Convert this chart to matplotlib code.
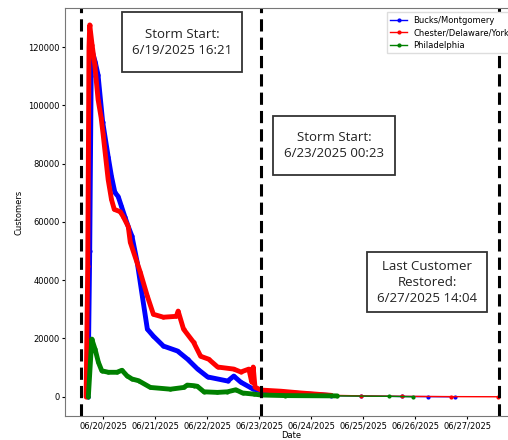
import numpy as np
import pandas as pd
import matplotlib
matplotlib.use("Agg")
import matplotlib.pyplot as plt
import matplotlib.dates as mdates
import matplotlib.patches as mpatches

# outage counts
bucks_t = ["2025-06-19 16:50", "2025-06-19 17:40", "2025-06-19 18:20", "2025-06-19 18:50",
           "2025-06-19 20:10", "2025-06-19 21:30", "2025-06-19 23:38", "2025-06-20 02:11",
           "2025-06-20 03:43", "2025-06-20 05:17", "2025-06-20 06:49", "2025-06-20 08:20",
           "2025-06-20 09:53", "2025-06-20 11:28", "2025-06-20 13:11", "2025-06-20 15:38",
           "2025-06-20 17:58", "2025-06-20 20:17", "2025-06-20 23:04", "2025-06-21 03:43",
           "2025-06-21 10:13", "2025-06-21 14:51", "2025-06-21 19:30", "2025-06-22 00:08",
           "2025-06-22 09:24", "2025-06-22 12:12", "2025-06-22 15:27", "2025-06-22 21:00",
           "2025-06-23 00:45", "2025-06-23 10:00", "2025-06-23 19:12", "2025-06-24 09:12",
           "2025-06-24 23:00", "2025-06-25 18:00", "2025-06-26 06:00", "2025-06-26 18:20"]
bucks_v = [0, 50000, 110000, 118500,
           115000, 110500, 94400, 82400,
           75600, 70100, 68700, 65300,
           61800, 58400, 55100, 46000,
           34500, 23200, 20800, 17400,
           15700, 12900, 9500, 6800,
           5400, 7100, 5000, 2700,
           2000, 1600, 1100, 400,
           250, 100, 50, 0]

chester_t = ["2025-06-19 16:00", "2025-06-19 16:45", "2025-06-19 17:20", "2025-06-19 17:40",
             "2025-06-19 18:45", "2025-06-19 20:00", "2025-06-19 21:32", "2025-06-19 22:56",
             "2025-06-19 23:52", "2025-06-20 02:11", "2025-06-20 03:43", "2025-06-20 05:00",
             "2025-06-20 07:45", "2025-06-20 09:09", "2025-06-20 11:28", "2025-06-20 12:24",
             "2025-06-20 17:02", "2025-06-20 20:17", "2025-06-20 23:04", "2025-06-21 03:43",
             "2025-06-21 09:40", "2025-06-21 10:30", "2025-06-21 13:00", "2025-06-21 17:38",
             "2025-06-21 20:53", "2025-06-22 00:36", "2025-06-22 04:46", "2025-06-22 12:12",
             "2025-06-22 15:27", "2025-06-22 19:10", "2025-06-22 20:30", "2025-06-22 21:10",
             "2025-06-22 22:00", "2025-06-23 00:45", "2025-06-23 10:00", "2025-06-23 19:12",
             "2025-06-24 09:12", "2025-06-24 23:10", "2025-06-25 17:40", "2025-06-26 16:20",
             "2025-06-27 14:04"]
chester_v = [0, 45000, 120000, 127600,
             120800, 113900, 102000, 95800,
             90000, 74500, 67700, 64300,
             63500, 61800, 58400, 53000,
             42700, 34500, 28300, 27300,
             27600, 29400, 23200, 18700,
             13900, 12900, 10200, 9500,
             8500, 9500, 5000, 10200,
             3300, 2300, 1900, 1300,
             500, 300, 150, 50,
             0]

phila_t = ["2025-06-19 17:02", "2025-06-19 18:37", "2025-06-19 20:09", "2025-06-19 21:41",
           "2025-06-19 23:15", "2025-06-20 02:19", "2025-06-20 06:13", "2025-06-20 08:33",
           "2025-06-20 10:52", "2025-06-20 13:11", "2025-06-20 16:15", "2025-06-20 21:41",
           "2025-06-21 06:58", "2025-06-21 13:08", "2025-06-21 14:42", "2025-06-21 17:47",
           "2025-06-21 19:21", "2025-06-21 22:25", "2025-06-22 04:38", "2025-06-22 09:16",
           "2025-06-22 13:08", "2025-06-22 16:14", "2025-06-22 21:37", "2025-06-23 00:45",
           "2025-06-23 12:00", "2025-06-24 12:00", "2025-06-25 12:00", "2025-06-25 23:10"]
phila_v = [0, 19800, 16300, 11800,
           8900, 8400, 8400, 9100,
           7200, 6100, 5500, 3200,
           2600, 3200, 4000, 3800,
           3600, 1700, 1500, 1700,
           2400, 1300, 900, 600,
           400, 300, 150, 0]

labels = ["Bucks/Montgomery", "Chester/Delaware/York", "Philadelphia"]
colors = ["blue", "red", "green"]
series = [(bucks_t, bucks_v), (chester_t, chester_v), (phila_t, phila_v)]

storm_lines = ["2025-06-19 13:30", "2025-06-23 00:45", "2025-06-27 14:50"]
notes = ["Storm Start:\n6/19/2025 16:21",
         "Storm Start:\n6/23/2025 00:23",
         "Last Customer\nRestored:\n6/27/2025 14:04"]
# note boxes in pixels: left, top, right, bottom
note_boxes = [(122, 12, 242, 72), (273, 116, 395, 175), (367, 252, 487, 312)]

W, H = 508, 440
fig = plt.figure(figsize=(W / 100, H / 100), dpi=100)
ax = fig.add_axes([65 / W, 24 / H, 452 / W, 408 / H])

thick_end = pd.Timestamp("2025-06-24 12:00")
for (t, v), lab, c in zip(series, labels, colors):
    t = pd.to_datetime(t)
    v = np.array(v)
    ax.plot(t, v, '.-', color=c, lw=1, ms=4, label=lab)
    m = t <= thick_end
    ax.plot(t[m], v[m], '-', color=c, lw=3.5, solid_capstyle='round')

for d in storm_lines:
    ax.axvline(pd.Timestamp(d), color='black', ls='--', lw=2.2, dashes=(4, 2))

ax.set_xlim(pd.Timestamp("2025-06-19 06:15"), pd.Timestamp("2025-06-27 23:00"))
ax.set_ylim(-6600, 133400)
ax.xaxis.set_major_locator(mdates.DayLocator())
ax.xaxis.set_major_formatter(mdates.DateFormatter('%m/%d/%Y'))
ax.tick_params(labelsize=6, length=2.5, width=0.8, pad=1.5)
ax.set_xlabel("Date", fontsize=6, labelpad=0)
ax.set_ylabel("Customers", fontsize=6, labelpad=3)
for s in ax.spines.values():
    s.set_color('#777777')

leg = ax.legend(loc='upper right', fontsize=6, handlelength=2, labelspacing=0.45,
                borderaxespad=0.5, framealpha=1, edgecolor='#dddddd', fancybox=False)
leg.set_zorder(5)

for txt, (x0, y0, x1, y1) in zip(notes, note_boxes):
    fig.patches.append(mpatches.Rectangle((x0 / W, 1 - y1 / H), (x1 - x0) / W, (y1 - y0) / H,
                                          transform=fig.transFigure, facecolor='white',
                                          edgecolor='#333333', lw=1.3, zorder=10))
    fig.text((x0 + x1) / 2 / W, 1 - (y0 + y1) / 2 / H, txt, ha='center', va='center',
             fontsize=9.5, family='Open Sans', color='#222222', linespacing=1.3, zorder=11)

fig.savefig("out.png", dpi=100)
